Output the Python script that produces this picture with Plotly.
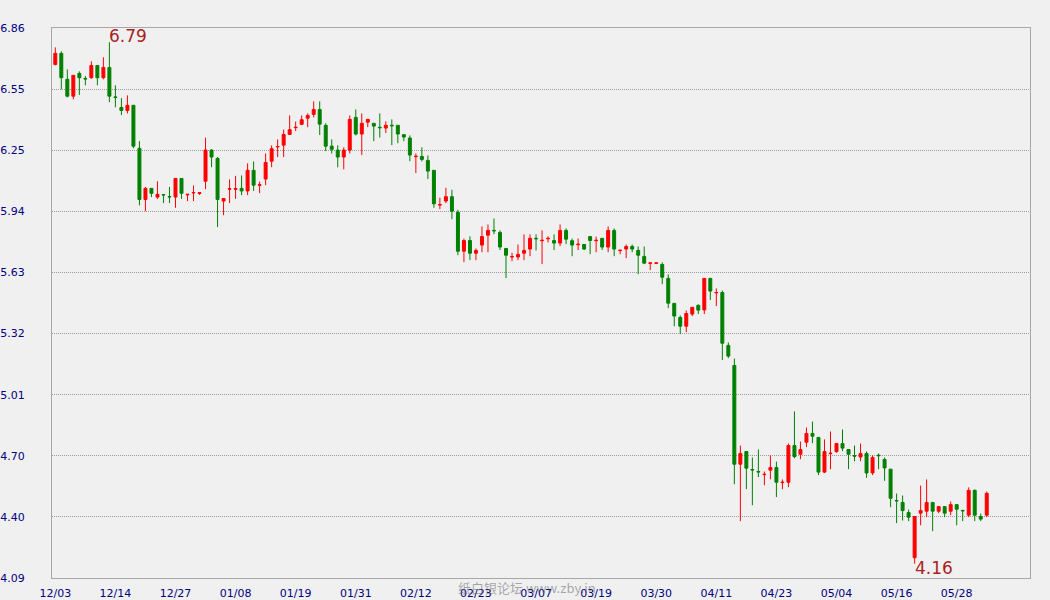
import plotly.graph_objects as go

# ---- data ----
opens = [6.678, 6.734, 6.603, 6.518, 6.633, 6.607, 6.611, 6.673, 6.611, 6.663,
         6.514, 6.461, 6.446, 6.472, 6.255, 5.997, 6.053, 6.009, 6.022, 6.012,
         6.009, 6.103, 6.020, 6.030, 6.027, 6.089, 6.246, 6.204, 5.989, 6.049,
         6.048, 6.053, 6.040, 6.144, 6.069, 6.100, 6.190, 6.262, 6.271, 6.325,
         6.359, 6.376, 6.407, 6.426, 6.451, 6.371, 6.266, 6.246, 6.211, 6.246,
         6.411, 6.327, 6.387, 6.381, 6.361, 6.357, 6.371, 6.371, 6.324, 6.307,
         6.213, 6.214, 6.194, 6.144, 5.969, 5.989, 6.011, 5.932, 5.736, 5.790,
         5.726, 5.767, 5.817, 5.841, 5.831, 5.750, 5.707, 5.707, 5.726, 5.747,
         5.801, 5.789, 5.799, 5.790, 5.777, 5.841, 5.789, 5.769, 5.770, 5.810,
         5.789, 5.801, 5.757, 5.841, 5.739, 5.747, 5.760, 5.740, 5.710, 5.675,
         5.675, 5.669, 5.599, 5.473, 5.402, 5.358, 5.419, 5.463, 5.440, 5.599,
         5.526, 5.528, 5.261, 5.160, 4.662, 4.726, 4.635, 4.625, 4.609, 4.632,
         4.645, 4.569, 4.571, 4.756, 4.712, 4.773, 4.817, 4.797, 4.622, 4.715,
         4.725, 4.766, 4.736, 4.705, 4.698, 4.716, 4.618, 4.707, 4.686, 4.637,
         4.479, 4.469, 4.418, 4.190, 4.415, 4.425, 4.469, 4.425, 4.448, 4.425,
         4.458, 4.429, 4.405, 4.530, 4.398, 4.405]
highs = [6.764, 6.744, 6.653, 6.623, 6.643, 6.620, 6.694, 6.673, 6.714, 6.790,
         6.573, 6.508, 6.522, 6.472, 6.291, 6.060, 6.053, 6.089, 6.022, 6.060,
         6.103, 6.103, 6.023, 6.068, 6.031, 6.309, 6.250, 6.211, 6.002, 6.098,
         6.116, 6.118, 6.179, 6.189, 6.087, 6.229, 6.270, 6.300, 6.350, 6.421,
         6.390, 6.421, 6.431, 6.492, 6.492, 6.381, 6.300, 6.270, 6.260, 6.421,
         6.451, 6.431, 6.401, 6.381, 6.431, 6.391, 6.401, 6.371, 6.324, 6.320,
         6.229, 6.260, 6.219, 6.144, 6.006, 6.056, 6.046, 5.945, 5.800, 5.811,
         5.750, 5.861, 5.871, 5.901, 5.841, 5.750, 5.728, 5.770, 5.821, 5.821,
         5.821, 5.841, 5.811, 5.821, 5.871, 5.851, 5.800, 5.800, 5.770, 5.810,
         5.810, 5.801, 5.861, 5.851, 5.741, 5.770, 5.770, 5.760, 5.760, 5.677,
         5.678, 5.680, 5.619, 5.473, 5.412, 5.437, 5.453, 5.468, 5.599, 5.599,
         5.548, 5.538, 5.276, 5.195, 4.756, 4.726, 4.696, 4.736, 4.625, 4.706,
         4.675, 4.585, 4.766, 4.928, 4.776, 4.847, 4.877, 4.797, 4.787, 4.827,
         4.766, 4.837, 4.736, 4.756, 4.766, 4.726, 4.706, 4.716, 4.696, 4.637,
         4.514, 4.504, 4.433, 4.398, 4.554, 4.585, 4.469, 4.448, 4.448, 4.474,
         4.458, 4.430, 4.545, 4.535, 4.413, 4.524]
lows = [6.673, 6.552, 6.512, 6.502, 6.524, 6.573, 6.606, 6.573, 6.603, 6.488,
        6.462, 6.423, 6.431, 6.255, 5.967, 5.938, 6.009, 6.000, 5.979, 5.979,
        5.955, 6.000, 5.989, 5.989, 6.020, 6.049, 6.160, 5.858, 5.918, 5.979,
        6.000, 6.019, 6.019, 6.040, 6.029, 6.069, 6.160, 6.211, 6.211, 6.322,
        6.342, 6.372, 6.362, 6.411, 6.322, 6.241, 6.229, 6.159, 6.149, 6.229,
        6.320, 6.221, 6.362, 6.291, 6.309, 6.332, 6.271, 6.281, 6.291, 6.190,
        6.130, 6.189, 6.100, 5.955, 5.948, 5.979, 5.898, 5.716, 5.681, 5.691,
        5.691, 5.731, 5.731, 5.822, 5.742, 5.601, 5.686, 5.691, 5.691, 5.711,
        5.740, 5.671, 5.780, 5.742, 5.762, 5.772, 5.711, 5.742, 5.742, 5.721,
        5.731, 5.742, 5.731, 5.711, 5.721, 5.701, 5.731, 5.620, 5.671, 5.641,
        5.671, 5.570, 5.449, 5.358, 5.318, 5.328, 5.409, 5.419, 5.419, 5.490,
        5.459, 5.187, 5.197, 4.561, 4.375, 4.536, 4.455, 4.597, 4.556, 4.586,
        4.496, 4.536, 4.546, 4.692, 4.687, 4.748, 4.768, 4.607, 4.617, 4.637,
        4.720, 4.728, 4.637, 4.677, 4.677, 4.593, 4.607, 4.637, 4.578, 4.445,
        4.365, 4.378, 4.375, 4.160, 4.354, 4.395, 4.324, 4.415, 4.395, 4.405,
        4.354, 4.375, 4.395, 4.375, 4.375, 4.395]
closes = [6.734, 6.611, 6.518, 6.623, 6.611, 6.605, 6.673, 6.611, 6.663, 6.518,
          6.512, 6.446, 6.472, 6.266, 5.997, 6.053, 6.028, 6.023, 6.020, 6.010,
          6.103, 6.028, 6.023, 6.032, 6.031, 6.246, 6.211, 5.997, 6.002, 6.051,
          6.052, 6.040, 6.144, 6.069, 6.071, 6.184, 6.253, 6.264, 6.325, 6.349,
          6.361, 6.399, 6.421, 6.451, 6.377, 6.266, 6.250, 6.211, 6.246, 6.401,
          6.327, 6.381, 6.401, 6.367, 6.359, 6.371, 6.369, 6.327, 6.312, 6.221,
          6.215, 6.199, 6.140, 5.975, 5.971, 6.011, 5.938, 5.736, 5.790, 5.726,
          5.740, 5.810, 5.841, 5.839, 5.757, 5.716, 5.709, 5.720, 5.740, 5.801,
          5.799, 5.791, 5.801, 5.777, 5.841, 5.797, 5.767, 5.771, 5.747, 5.790,
          5.791, 5.757, 5.841, 5.747, 5.741, 5.760, 5.747, 5.716, 5.676, 5.677,
          5.677, 5.605, 5.474, 5.409, 5.358, 5.422, 5.453, 5.439, 5.599, 5.535,
          5.528, 5.272, 5.207, 4.662, 4.716, 4.642, 4.633, 4.623, 4.611, 4.645,
          4.571, 4.571, 4.756, 4.700, 4.736, 4.817, 4.803, 4.622, 4.726, 4.717,
          4.766, 4.743, 4.712, 4.703, 4.716, 4.618, 4.696, 4.705, 4.643, 4.490,
          4.477, 4.428, 4.395, 4.398, 4.428, 4.469, 4.425, 4.448, 4.415, 4.458,
          4.435, 4.427, 4.530, 4.405, 4.385, 4.515]

date_ticks = ["12/03", "12/14", "12/27", "01/08", "01/19", "01/31", "02/12", "02/23",
              "03/07", "03/19", "03/30", "04/11", "04/23", "05/04", "05/16", "05/28"]
tick_every = 10
y_labels = ["4.09", "4.40", "4.70", "5.01", "5.32", "5.63", "5.94", "6.25", "6.55", "6.86"]
y_min, y_max = 4.088, 6.8618
watermark = "纸白银论坛 www.zby.in"

n = len(opens)
xs = list(range(n))
i_hi = max(range(n), key=lambda i: highs[i])
i_lo = min(range(n), key=lambda i: lows[i])

RED = "#FF0000"
GREEN = "#008000"
BG = "#F0F0F0"
GRID = "#9A9A9A"
NAVY = "#000080"
FRAME = "#A8A8A8"

fig = go.Figure(go.Candlestick(
    x=xs, open=opens, high=highs, low=lows, close=closes,
    increasing=dict(line=dict(color=RED, width=1), fillcolor=RED),
    decreasing=dict(line=dict(color=GREEN, width=1), fillcolor=GREEN),
    whiskerwidth=0, hoverinfo="skip", showlegend=False,
))

step = (y_max - y_min) / (len(y_labels) - 1)
y_tickvals = [y_min + k * step for k in range(len(y_labels))]

fig.update_layout(
    width=1050, height=600,
    margin=dict(l=52, r=20, t=28, b=22, autoexpand=False),
    paper_bgcolor=BG, plot_bgcolor=BG,
    boxgap=0.3,
    font=dict(family="DejaVu Sans", size=11, color=NAVY),
    xaxis=dict(
        range=[-0.55, 162.2], rangeslider=dict(visible=False), automargin=False,
        tickvals=[k * tick_every for k in range(len(date_ticks))],
        ticktext=date_ticks, showgrid=False, zeroline=False,
        showline=True, mirror=True, linecolor=FRAME, linewidth=1,
        ticks="", ticklabelstandoff=5,
        tickfont=dict(family="DejaVu Sans", size=11, color=NAVY),
    ),
    yaxis=dict(
        range=[y_min, y_max], tickvals=y_tickvals, ticktext=y_labels, automargin=False,
        showgrid=True, gridcolor=GRID, griddash="1px,1px", gridwidth=1,
        zeroline=False, showline=True, mirror=True, linecolor=FRAME,
        linewidth=1, ticks="", ticklabelstandoff=24,
        tickfont=dict(family="DejaVu Sans", size=11, color=NAVY),
    ),
    annotations=[
        dict(x=i_hi, y=highs[i_hi], text=f"{highs[i_hi]:.2f}", showarrow=False,
             xanchor="left", yanchor="middle", yshift=6, xshift=-2,
             font=dict(family="DejaVu Sans", size=17, color="#A82222")),
        dict(x=i_lo, y=lows[i_lo], text=f"{lows[i_lo]:.2f}", showarrow=False,
             xanchor="left", yanchor="middle", yshift=-4, xshift=-2,
             font=dict(family="DejaVu Sans", size=17, color="#A82222")),
        dict(x=0.5, y=-0.018, xref="paper", yref="paper", text=watermark,
             showarrow=False, xanchor="center", yanchor="middle", xshift=-14,
             borderpad=0,
             font=dict(family="Noto Sans CJK SC", size=13, color="rgba(90,90,90,0.5)")),
    ],
)

fig.write_html("out.html", config={"displayModeBar": False},
               post_script="document.body.style.margin='0';")
